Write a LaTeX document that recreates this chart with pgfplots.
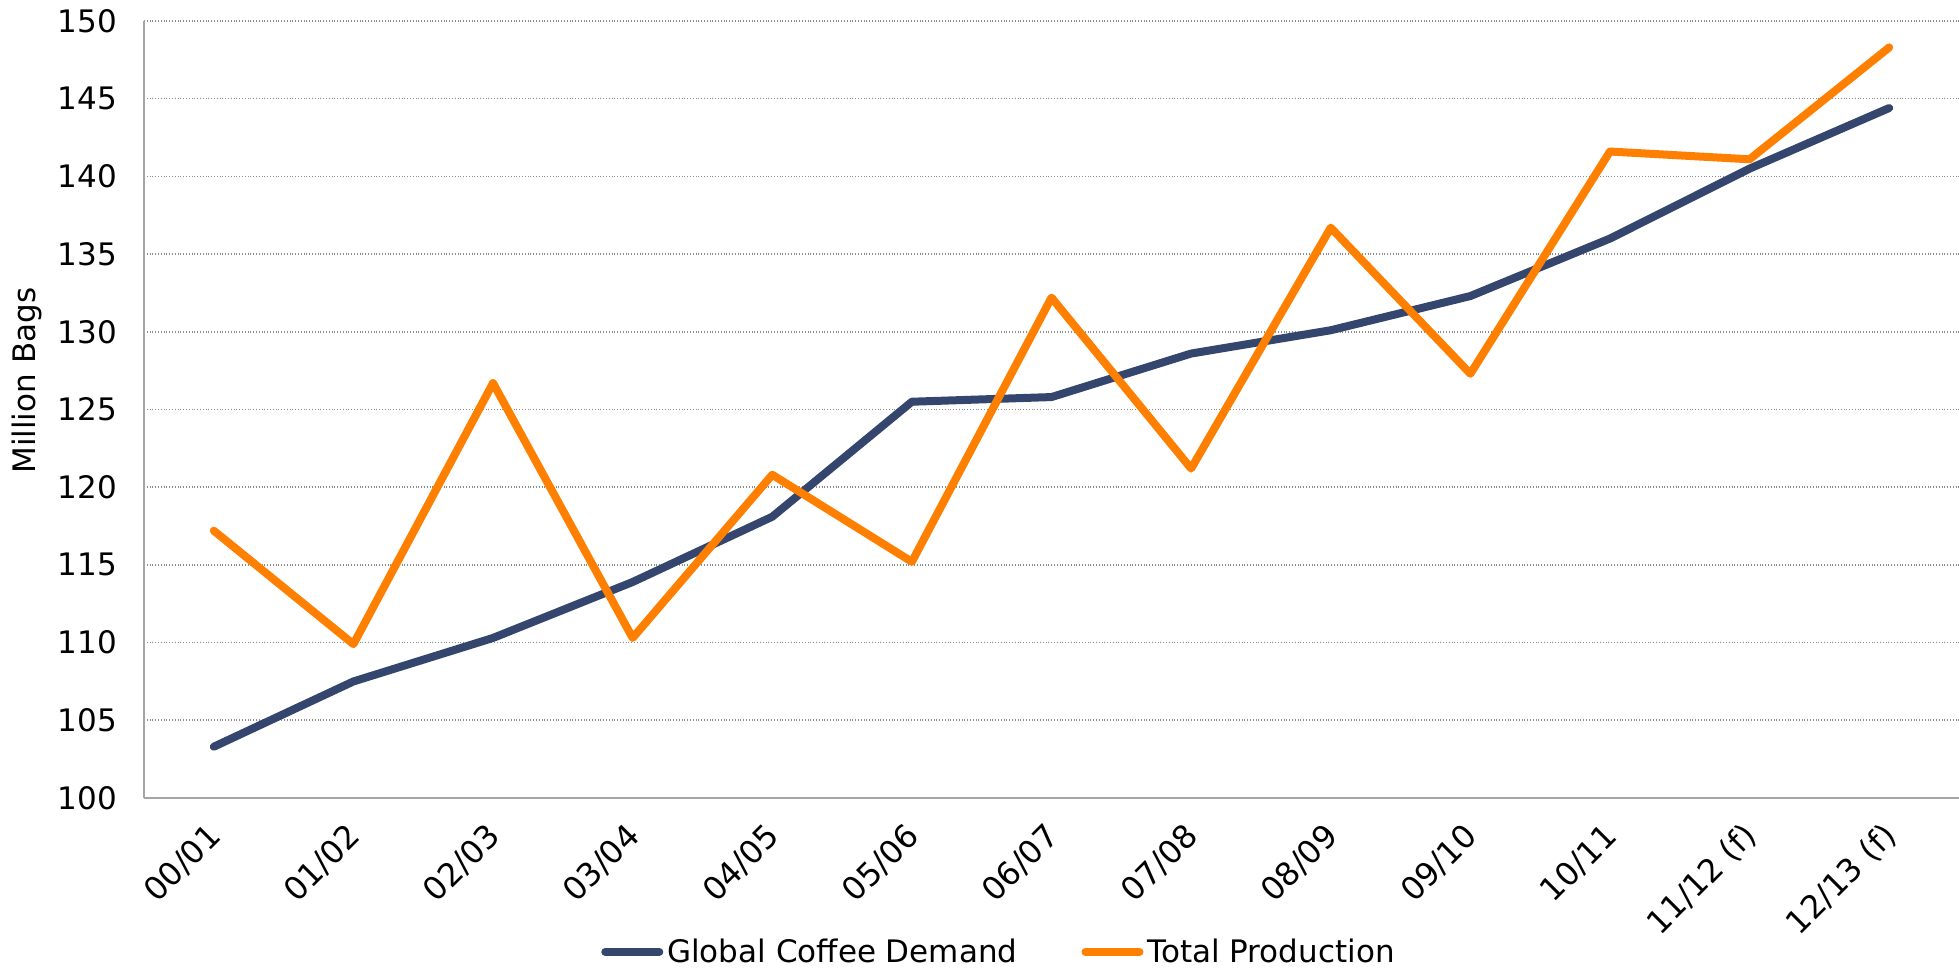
\documentclass[border=0pt]{standalone}
\usepackage{fontspec}
\setmainfont{DejaVu Sans}
\usepackage{pgfplots}
\pgfplotsset{compat=1.18}

\definecolor{demandblue}{RGB}{52,70,110}
\definecolor{prodorange}{RGB}{255,127,0}
\definecolor{axisgray}{RGB}{165,165,165}
\definecolor{gridgray}{RGB}{140,140,140}

\pgfplotstableread{
idx demand production
0  103.3 117.2
1  107.5 109.9
2  110.3 126.7
3  113.9 110.3
4  118.1 120.8
5  125.5 115.2
6  125.8 132.2
7  128.6 121.2
8  130.1 136.7
9  132.3 127.3
10 136.0 141.6
11 140.5 141.1
12 144.4 148.3
}\coffee

\begin{document}
\begin{tikzpicture}
\useasboundingbox (0pt,0pt) rectangle (979.5pt,484.5pt);
\begin{axis}[
  at={(72pt,85.5pt)}, anchor=south west,
  scale only axis, width=907.5pt, height=388.5pt,
  xmin=-0.5, xmax=12.5, ymin=100, ymax=150,
  ytick={100,105,...,150},
  xtick={0,...,12},
  xticklabels={00/01,01/02,02/03,03/04,04/05,05/06,06/07,07/08,08/09,09/10,10/11,11/12 (f),12/13 (f)},
  axis x line*=bottom, axis y line*=left,
  axis line style={draw=axisgray, line width=1pt, -},
  ymajorgrids, grid style={densely dotted, draw=gridgray, line width=0.8pt},
  major tick length=0pt,
  tick label style={font=\fontsize{15.5pt}{18pt}\selectfont, black},
  /pgf/number format/assume math mode=true,
  yticklabel style={xshift=-10pt},
  xticklabel style={xshift=3.3pt, yshift=-14pt, rotate=45, anchor=east, font=\fontsize{16pt}{18pt}\selectfont},
  ylabel={Million Bags},
  ylabel style={at={(axis description cs:-0.0645,0.537)}, anchor=center, rotate=0, font=\fontsize{15.5pt}{18pt}\selectfont},
  legend style={at={(axis description cs:0.4716,-0.198)}, anchor=center, draw=none, fill=none,
    font=\fontsize{15.5pt}{18pt}\selectfont, legend columns=2,
    /tikz/every even column/.append style={column sep=30pt},
    inner sep=0pt},
  legend cell align=left,
  legend image code/.code={\draw[#1, line cap=round] (0pt,0pt) -- (27pt,0pt);},
  clip=false,
]
\addplot[demandblue, line width=4pt, line cap=round, line join=round] table[x=idx, y=demand] {\coffee};
\addlegendentry{Global Coffee Demand}
\addplot[prodorange, line width=4pt, line cap=round, line join=round] table[x=idx, y=production] {\coffee};
\addlegendentry{Total Production}
\end{axis}
\end{tikzpicture}
\end{document}
